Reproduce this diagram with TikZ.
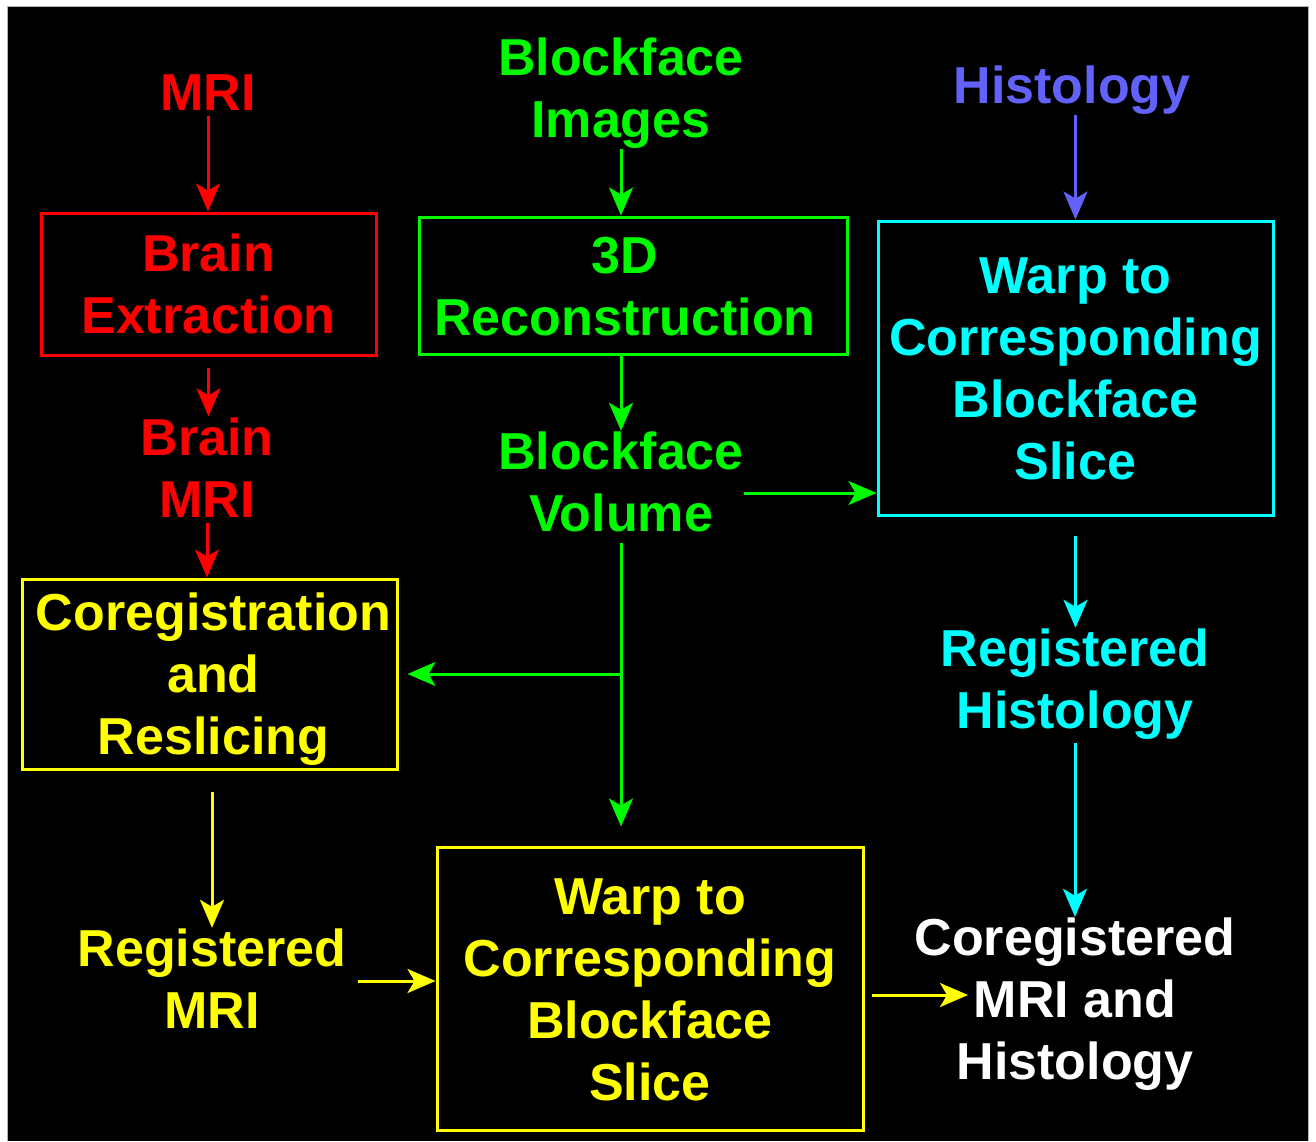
\documentclass[tikz,border=0pt]{standalone}
\usepackage{fontspec}
\setmainfont{Liberation Sans}
\usetikzlibrary{arrows.meta,calc}
\definecolor{cred}{RGB}{255,0,0}
\definecolor{cgreen}{RGB}{0,250,0}
\definecolor{cyel}{RGB}{255,255,0}
\definecolor{ccyan}{RGB}{0,255,255}
\definecolor{cblue}{RGB}{98,98,250}
\newcommand\ls{\rule[-11.5pt]{0pt}{50pt}}
\newcommand\bs{\rule[-12.5pt]{0pt}{62pt}}
\begin{document}
\begin{tikzpicture}[x=1pt,y=-1pt,
  txt/.style={font=\fontsize{52}{62}\selectfont\bfseries, align=center, inner sep=0pt, text=#1},
  box/.style={draw=#1, line width=3pt, inner sep=0pt, font=\fontsize{52}{62}\selectfont\bfseries, align=center, text=#1},
  arr/.style={draw=#1, line width=3pt, -{Stealth[length=28pt,width=24pt,inset=7pt]}}]
\useasboundingbox (0,0) rectangle (1316,1141);
\fill[white] (0,0) rectangle (1316,1141);
\fill[black] (8,7) rectangle (1308,1141);
\draw[black!30, line width=1pt] (7.5,1141) -- (7.5,6.5) -- (1308.5,6.5) -- (1308.5,1141);

% texts
\node[txt=cred] (mri) at (208,97) {\ls MRI};
\node[txt=cred] (brainmri) at (207,472.5) {\ls Brain\\\ls MRI};
\node[txt=cyel] (regmri) at (212,984) {\ls Registered\\\ls MRI};
\node[txt=cgreen] (bfimg) at (621,93) {\ls Blockface\\\ls Images};
\node[txt=cgreen] (bfvol) at (621,487) {\ls Blockface\\\ls Volume};
\node[txt=cblue] (histo) at (1072,90) {\ls Histology};
\node[txt=ccyan] (reghist) at (1075,684) {\ls Registered\\\ls Histology};
\node[txt=white] (coregd) at (1075,1004) {\ls Coregistered\\\ls MRI and\\\ls Histology};

% boxes
\node[box=cred, minimum width=335pt, minimum height=142pt] (brainext) at (208.5,284) {\bs Brain\\\bs Extraction};
\node[box=cgreen, minimum width=428pt, minimum height=137pt] (recon) at (633,285.5) {\bs 3D\hspace*{16pt}\\\bs Reconstruction\hspace*{16pt}};
\node[box=ccyan, minimum width=395pt, minimum height=294pt] (warpH) at (1075.5,368) {\bs Warp to\\\bs Corresponding\\\bs Blockface\\\bs Slice};
\node[box=cyel, minimum width=375pt, minimum height=190pt] (coreg) at (209.5,674) {\hspace*{8pt}\bs Coregistration\\\hspace*{8pt}\bs and\\\hspace*{8pt}\bs Reslicing};
\node[box=cyel, minimum width=426pt, minimum height=283pt] (warpY) at (650,988.5) {\bs Warp to\\\bs Corresponding\\\bs Blockface\\\bs Slice};

% connectors
\draw[arr=cred, shorten <=-6pt] (mri.south) -- (mri.south |- brainext.north);
\draw[arr=cred, shorten <=11pt] (brainext.south) -- (brainext.south |- brainmri.north);
\draw[arr=cred, shorten <=-6pt] (brainmri.south) -- (brainmri.south |- coreg.north);
\draw[arr=cyel, shorten <=21pt] (coreg.south -| regmri.north) -- (regmri.north);
\draw[arr=cyel, shorten <=11pt] ([yshift=3pt]regmri.east) -- ([yshift=3pt]regmri.east -| warpY.west);
\coordinate (coregin) at (968,995);
\draw[arr=cyel, shorten <=7pt] (warpY.east |- coregin) -- (coregin);
\draw[arr=cgreen] (bfimg.south) -- (bfimg.south |- recon.north);
\draw[arr=cgreen] (recon.south -| bfvol.north) -- (bfvol.north);
\draw[arr=cgreen] ([yshift=-6pt]bfvol.east) -- ([yshift=-6pt]bfvol.east -| warpH.west);
\draw[arr=cgreen, shorten >=19pt] (bfvol.south) -- (bfvol.south |- warpY.north);
\coordinate (br) at (bfvol.south |- coreg.east);
\draw[arr=cgreen, shorten >=9pt] (br) -- (coreg.east);
\draw[arr=cblue] (warpH.north |- histo.south) -- (warpH.north);
\draw[arr=ccyan, shorten <=19pt] (warpH.south) -- (warpH.south |- reghist.north);
\draw[arr=ccyan, shorten <=3pt] (reghist.south) -- (reghist.south |- coregd.north);
\end{tikzpicture}
\end{document}
